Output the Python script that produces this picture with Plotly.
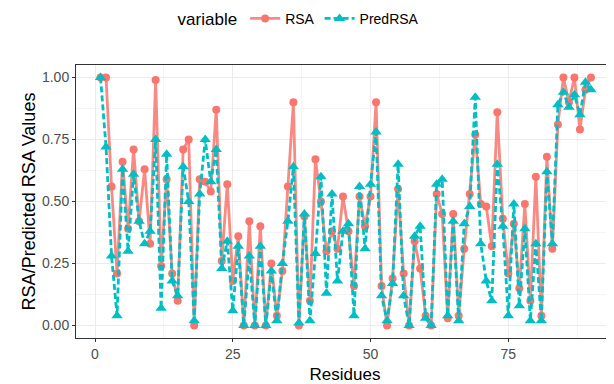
import plotly.graph_objects as go

residues = list(range(1, 91))
rsa = [1.00, 1.00, 0.56, 0.21, 0.66, 0.39, 0.71, 0.42, 0.63, 0.33,
       0.99, 0.24, 0.59, 0.21, 0.10, 0.71, 0.75, 0.00, 0.59, 0.58,
       0.54, 0.87, 0.26, 0.57, 0.18, 0.36, 0.00, 0.42, 0.00, 0.40,
       0.00, 0.25, 0.04, 0.22, 0.56, 0.90, 0.00, 0.44, 0.10, 0.67,
       0.50, 0.30, 0.38, 0.31, 0.52, 0.38, 0.16, 0.52, 0.40, 0.52,
       0.90, 0.16, 0.00, 0.19, 0.55, 0.21, 0.00, 0.34, 0.23, 0.04,
       0.00, 0.53, 0.45, 0.03, 0.45, 0.04, 0.31, 0.53, 0.77, 0.49,
       0.48, 0.32, 0.86, 0.43, 0.21, 0.41, 0.15, 0.49, 0.10, 0.60,
       0.04, 0.68, 0.31, 0.81, 1.00, 0.90, 1.00, 0.79, 0.95, 1.00]
pred_rsa = [1.00, 0.72, 0.28, 0.04, 0.63, 0.30, 0.61, 0.42, 0.33, 0.38,
            0.75, 0.07, 0.69, 0.18, 0.12, 0.64, 0.50, 0.02, 0.53, 0.75,
            0.58, 0.71, 0.23, 0.34, 0.06, 0.32, 0.00, 0.28, 0.00, 0.32,
            0.00, 0.22, 0.02, 0.25, 0.42, 0.64, 0.01, 0.45, 0.02, 0.29,
            0.60, 0.13, 0.53, 0.18, 0.38, 0.41, 0.04, 0.56, 0.31, 0.57,
            0.78, 0.12, 0.02, 0.17, 0.65, 0.12, 0.00, 0.36, 0.40, 0.03,
            0.00, 0.57, 0.59, 0.04, 0.42, 0.02, 0.41, 0.48, 0.92, 0.33,
            0.18, 0.10, 0.65, 0.40, 0.04, 0.49, 0.08, 0.39, 0.02, 0.33,
            0.02, 0.62, 0.33, 0.89, 0.94, 0.88, 0.93, 0.85, 0.98, 0.95]

x_ticks = [0, 25, 50, 75]
y_ticks = [0.0, 0.25, 0.5, 0.75, 1.0]
y_tick_labels = ["0.00", "0.25", "0.50", "0.75", "1.00"]

RED = "#F8766D"
CYAN = "#00BFC4"
FONT = "Liberation Sans, Arial, sans-serif"

fig = go.Figure()
fig.add_trace(go.Scatter(
    x=residues, y=rsa, name="RSA", mode="lines+markers",
    line=dict(color="rgba(248,118,109,0.85)", width=2.8),
    marker=dict(color=RED, size=8, symbol="circle"),
))
fig.add_trace(go.Scatter(
    x=residues, y=pred_rsa, name="PredRSA", mode="lines+markers",
    line=dict(color=CYAN, width=2.8, dash="6px,3px"),
    marker=dict(color=CYAN, size=10, symbol="triangle-up"),
))

axis_common = dict(
    showline=True, mirror=True, linecolor="#333333", linewidth=1,
    ticks="outside", ticklen=3, tickcolor="#333333", tickwidth=1,
    showgrid=True, gridcolor="#EBEBEB", gridwidth=1,
    zeroline=False,
    tickfont=dict(family=FONT, size=14, color="#4D4D4D"),
)

# The page body adds an 8px offset, so the figure is laid out 8px smaller
fig.update_layout(
    width=606, height=376,
    margin=dict(l=68, r=0, t=57, b=46),
    paper_bgcolor="white", plot_bgcolor="white",
    font=dict(family=FONT, color="black"),
    showlegend=True,
    legend=dict(
        orientation="h", xref="container", yref="container",
        x=0.482, xanchor="center", y=0.97, yanchor="middle",
        title=dict(text="variable", font=dict(size=17, family=FONT)),
        font=dict(size=14, family=FONT),
        itemwidth=30, tracegroupgap=0,
    ),
    xaxis=dict(
        **axis_common,
        range=[-3.45, 94.18],
        tickvals=x_ticks,
        minor=dict(dtick=12.5, tick0=0, showgrid=True, gridcolor="#F4F4F4", gridwidth=1, ticks=""),
        title=dict(text="Residues", font=dict(size=17, family=FONT), standoff=9),
    ),
    yaxis=dict(
        **axis_common,
        range=[-0.05, 1.05],
        tickvals=y_ticks, ticktext=y_tick_labels,
        minor=dict(dtick=0.125, tick0=0, showgrid=True, gridcolor="#F4F4F4", gridwidth=1, ticks=""),
        title=dict(text="RSA/Predicted RSA Values", font=dict(size=18, family=FONT), standoff=1),
    ),
)

fig.write_html("out.html")
